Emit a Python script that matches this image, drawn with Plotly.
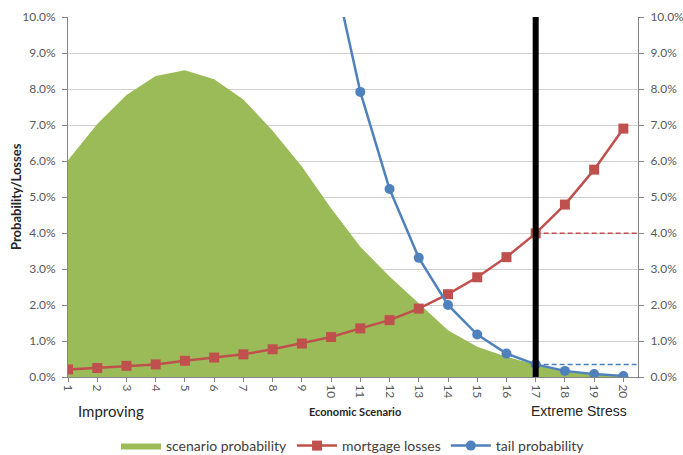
import plotly.graph_objects as go

# Economic scenarios 1 (improving) .. 20 (extreme stress)
scenarios = list(range(1, 21))

# Probability of each scenario (fraction)
scenario_probability = [0.0602, 0.0703, 0.0783, 0.0836, 0.0852, 0.0827, 0.0771, 0.0684,
                        0.0585, 0.0469, 0.0362, 0.0279, 0.0205, 0.0130, 0.0084, 0.0056,
                        0.0035, 0.0019, 0.0009, 0.0004]

# Mortgage losses under each scenario (fraction)
mortgage_losses = [0.0021, 0.0025, 0.0031, 0.0035, 0.0045, 0.0054, 0.0063, 0.0077,
                   0.0093, 0.0111, 0.0135, 0.0158, 0.0190, 0.0230, 0.0277, 0.0333,
                   0.0399, 0.0479, 0.0576, 0.0690]

# Tail probability (only the stressed end is on scale)
tail_probability = [None, None, None, None, None, None, None, None, None, 0.1160,
                    0.0792, 0.0522, 0.0331, 0.0200, 0.0118, 0.0065, 0.0035, 0.0017,
                    0.0008, 0.0003]

# Stress threshold scenario
threshold = 17
y_ticks = [i / 100 for i in range(0, 11)]

GREEN = "#9BBB59"
RED = "#C0504D"
BLUE = "#4F81BD"
TICK_FONT = dict(family="Lato, 'Open Sans', sans-serif", size=12, color="#595959")

fig = go.Figure()

fig.add_trace(go.Scatter(
    x=scenarios, y=scenario_probability, name="scenario probability",
    mode="lines", line=dict(color=GREEN, width=0), fill="tozeroy",
    fillcolor=GREEN,
))
fig.add_trace(go.Scatter(
    x=scenarios, y=mortgage_losses, name="mortgage losses",
    mode="lines+markers", line=dict(color=RED, width=2.5),
    marker=dict(symbol="square", size=10, color=RED),
))
fig.add_trace(go.Scatter(
    x=scenarios, y=tail_probability, name="tail probability",
    mode="lines+markers", line=dict(color=BLUE, width=2.5),
    marker=dict(symbol="circle", size=10, color=BLUE),
))

i17 = scenarios.index(threshold)
x_end = 20.5
# Dashed reference levels from the threshold scenario to the right edge
fig.add_trace(go.Scatter(
    x=[threshold, x_end], y=[mortgage_losses[i17]] * 2, yaxis="y2",
    mode="lines", line=dict(color=RED, width=1.5, dash="5px,3px"), showlegend=False,
))
fig.add_trace(go.Scatter(
    x=[threshold, x_end], y=[tail_probability[i17]] * 2, yaxis="y2",
    mode="lines", line=dict(color=BLUE, width=1.5, dash="5px,3px"), showlegend=False,
))
# Threshold marker
fig.add_trace(go.Scatter(
    x=[threshold, threshold], y=[0, 0.1], yaxis="y2",
    mode="lines", line=dict(color="black", width=6), showlegend=False,
))

fig.update_layout(
    width=683, height=455,
    margin=dict(l=68, r=45, t=17, b=78, autoexpand=False),
    plot_bgcolor="white", paper_bgcolor="white",
    font=dict(family="Lato, 'Open Sans', sans-serif", color="#404040"),
    xaxis=dict(
        range=[1, x_end], tickvals=scenarios, ticktext=[str(s) for s in scenarios],
        tickangle=90, tickfont=TICK_FONT, showgrid=False, zeroline=False,
        showline=True, linecolor="#868686", linewidth=1, automargin=False,
        ticks="outside", ticklen=4, tickcolor="#868686",
    ),
    yaxis=dict(
        range=[0, 0.1], tickvals=y_ticks, tickformat=".1%", tickfont=TICK_FONT,
        showgrid=True, gridcolor="#D0D0D0", gridwidth=1, zeroline=False,
        showline=True, linecolor="#868686", linewidth=1, automargin=False,
        ticks="outside", ticklen=5, tickcolor="#868686", ticklabelstandoff=4,
    ),
    yaxis2=dict(
        range=[0, 0.1], tickvals=y_ticks, tickformat=".1%", tickfont=TICK_FONT,
        overlaying="y", side="right", showgrid=False, zeroline=False,
        showline=True, linecolor="#868686", linewidth=1, automargin=False,
        ticks="outside", ticklen=5, tickcolor="#868686", ticklabelstandoff=4,
    ),
    legend=dict(
        orientation="h", x=0.5, xanchor="center",
        yref="container", y=(455 - 446) / 455, yanchor="middle",
        font=dict(family="Lato, 'Open Sans', sans-serif", size=14, color="#404040"),
        itemwidth=40, traceorder="normal",
    ),
    showlegend=True,
)

fig.add_annotation(
    text="<b>Probability/Losses</b>", xref="paper", yref="paper",
    x=(16 - 68) / 570, y=0.5, xanchor="center", yanchor="middle",
    textangle=-90, showarrow=False,
    font=dict(family="Lato, 'Open Sans', sans-serif", size=13, color="#262626"),
)
fig.add_annotation(
    text="Improving", xref="paper", yref="paper", x=(76 - 68) / 570,
    y=(377 - 411) / 360, xanchor="left", yanchor="middle", showarrow=False,
    font=dict(family="Lato, 'Open Sans', sans-serif", size=15, color="#262626"),
)
fig.add_annotation(
    text="<b>Economic Scenario</b>", xref="paper", yref="paper", x=(355 - 68) / 570,
    y=(377 - 411) / 360, xanchor="center", yanchor="middle", showarrow=False,
    font=dict(family="Lato, 'Open Sans', sans-serif", size=11, color="#262626"),
)
fig.add_annotation(
    text="Extreme Stress", xref="paper", yref="paper", x=(629 - 68) / 570,
    y=(377 - 411) / 360, xanchor="right", yanchor="middle", showarrow=False,
    font=dict(family="Liberation Sans, Arial, sans-serif", size=14, color="#262626"),
)

fig.write_html("out.html")
